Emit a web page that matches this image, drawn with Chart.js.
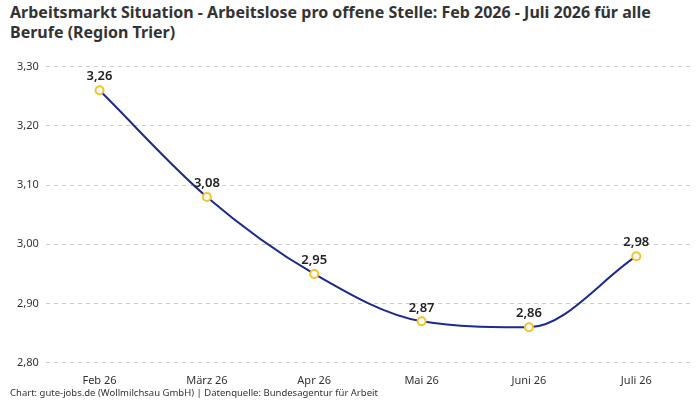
<!DOCTYPE html>
<html>
<head>
<meta charset="utf-8">
<script src="https://cdn.jsdelivr.net/npm/chart.js@4"></script>
<style>
  body { margin: 0; background: #fff; font-family: "Noto Sans", sans-serif; }
  #wrap { position: relative; width: 700px; height: 400px; }
  #title { position: absolute; left: 10px; top: 2px; width: 690px; font-size: 16px; font-weight: bold; color: #333; line-height: 20px; }
  #foot { position: absolute; left: 10px; top: 386px; font-size: 9.5px; color: #333; }
  #chartBox { position: absolute; left: 0; top: 53px; width: 700px; height: 337px; }
</style>
</head>
<body>
<div id="wrap">
  <div id="title">Arbeitsmarkt Situation - Arbeitslose pro offene Stelle: Feb 2026 - Juli 2026 für alle Berufe (Region Trier)</div>
  <div id="chartBox"><canvas id="chart"></canvas></div>
  <div id="foot">Chart: gute-jobs.de (Wollmilchsau GmbH) | Datenquelle: Bundesagentur für Arbeit</div>
</div>
<script>
const months = ['Feb 26', 'März 26', 'Apr 26', 'Mai 26', 'Juni 26', 'Juli 26'];
const ratios = [3.26, 3.08, 2.95, 2.87, 2.86, 2.98];

const fmt = v => v.toFixed(2).replace('.', ',');

// draw value labels above each point
const valueLabels = {
  id: 'valueLabels',
  afterDatasetsDraw(chart) {
    const ctx = chart.ctx;
    const meta = chart.getDatasetMeta(0);
    ctx.save();
    ctx.font = '600 13px "Noto Sans"';
    ctx.fillStyle = '#222';
    ctx.textAlign = 'center';
    ctx.textBaseline = 'bottom';
    meta.data.forEach((pt, i) => {
      ctx.fillText(fmt(ratios[i]), pt.x, pt.y - 7);
    });
    ctx.restore();
  }
};

new Chart(document.getElementById('chart'), {
  type: 'line',
  data: {
    labels: months,
    datasets: [{
      data: ratios,
      borderColor: '#1c2a8c',
      borderWidth: 2,
      cubicInterpolationMode: 'monotone',
      pointBackgroundColor: '#fff',
      pointBorderColor: '#f5c227',
      pointBorderWidth: 2,
      pointRadius: 4
    }]
  },
  options: {
    responsive: true,
    maintainAspectRatio: false,
    animation: false,
    layout: { padding: { left: 10, right: 10, top: 0 } },
    plugins: { legend: { display: false }, tooltip: { enabled: false } },
    scales: {
      x: {
        offset: true,
        grid: { display: false },
        border: { display: false },
        ticks: { color: '#333', font: { size: 11, family: 'Noto Sans' } }
      },
      y: {
        min: 2.8,
        max: 3.3,
        ticks: { stepSize: 0.1, padding: 7, color: '#333', font: { size: 11, family: 'Noto Sans' }, callback: v => fmt(v) },
        border: { display: false, dash: [4, 4] },
        grid: { color: '#ccc', drawTicks: false }
      }
    }
  },
  plugins: [valueLabels]
});
</script>
</body>
</html>
